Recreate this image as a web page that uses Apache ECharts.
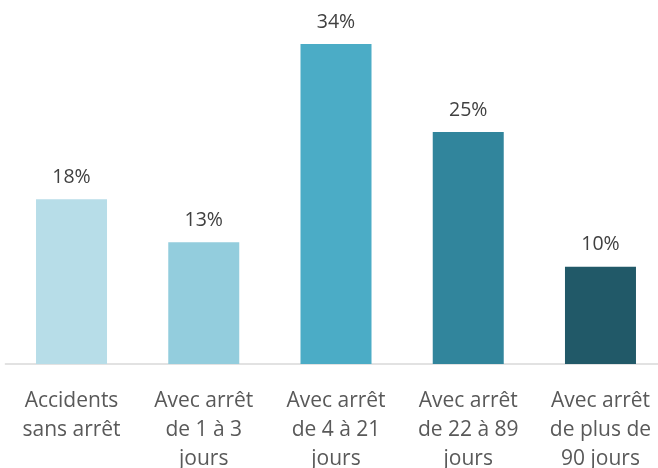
<!DOCTYPE html>
<html>
<head>
<meta charset="utf-8">
<script src="https://cdn.jsdelivr.net/npm/echarts@6/dist/echarts.min.js"></script>
<style>
  html, body { margin: 0; padding: 0; background: #fff; }
  #main { width: 658px; height: 468px; }
</style>
</head>
<body>
<div id="main"></div>
<script>
// catégories et parts (en %)
const categories = [
  'Accidents\nsans arrêt',
  'Avec arrêt\nde 1 à 3\njours',
  'Avec arrêt\nde 4 à 21\njours',
  'Avec arrêt\nde 22 à 89\njours',
  'Avec arrêt\nde plus de\n90 jours'
]
const values = [17.6, 13.0, 34.2, 24.8, 10.4]
const colors = ['#B7DDE8', '#93CDDD', '#4BACC6', '#31859C', '#215968']

const chart = echarts.init(document.getElementById('main'))

chart.setOption({
  animation: false,
  textStyle: { fontFamily: 'Open Sans' },
  grid: {
    left: 5.4,
    width: 661.2,
    top: 0,
    bottom: 104,
    containLabel: false,
    outerBoundsMode: 'none',
  },
  xAxis: {
    type: 'category',
    data: categories,
    axisTick: { show: false },
    axisLine: { lineStyle: { color: '#D9D9D9', width: 1.5 } },
    axisLabel: {
      color: '#595959',
      fontSize: 21,
      lineHeight: 29.3,
      margin: 22,
      interval: 0,
    },
  },
  yAxis: {
    type: 'value',
    min: 0,
    max: 38.9,
    show: false,
    splitLine: { show: false },
  },
  series: [
    {
      type: 'bar',
      barWidth: 71,
      data: values.map((v, i) => ({
        value: v,
        itemStyle: { color: colors[i] },
      })),
      label: {
        show: true,
        position: 'top',
        distance: 12,
        color: '#404040',
        fontSize: 19.5,
        formatter: p => Math.round(p.value) + '%',
      },
    },
  ],
})
</script>
</body>
</html>
